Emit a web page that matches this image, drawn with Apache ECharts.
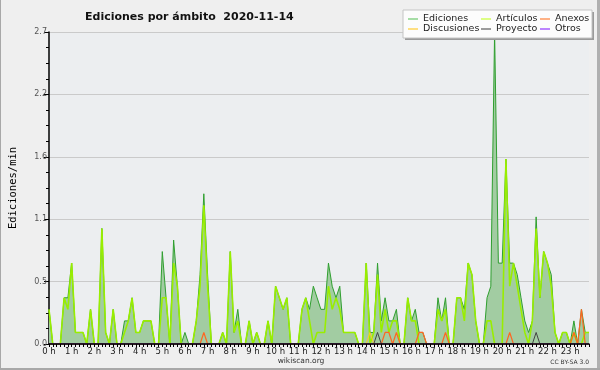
<!DOCTYPE html>
<html><head><meta charset="utf-8">
<script src="https://cdn.jsdelivr.net/npm/echarts/dist/echarts.min.js"></script>
<style>html,body{margin:0;padding:0;background:#efefef}#c{width:600px;height:370px}</style>
</head><body><div id="c"></div><script>
// tick labels (one per hour); data are 10-minute bins, 144 per day
const hourLabels = ['0 h','1 h','2 h','3 h','4 h','5 h','6 h','7 h','8 h','9 h','10 h','11 h',
  '12 h','13 h','14 h','15 h','16 h','17 h','18 h','19 h','20 h','21 h','22 h','23 h'];
const binsPerHour = 6;

// Ediciones (total) per 10-minute bin, edits/min
const ediciones = [
  0.3,0,0,0,0.4,0.4, 0.7,0.1,0.1,0.1,0,0.3,
  0,0,1.0,0.1,0,0.3, 0,0,0.2,0.2,0.4,0.1,
  0.1,0.2,0.2,0.2,0,0, 0.8,0.4,0,0.9,0.5,0,
  0.1,0,0,0.2,0.6,1.3, 0.6,0,0,0,0.1,0,
  0.8,0.1,0.3,0,0,0.2, 0,0.1,0,0,0.2,0,
  0.5,0.4,0.3,0.4,0,0, 0,0.3,0.4,0.3,0.5,0.4,
  0.3,0.3,0.7,0.5,0.4,0.5, 0.1,0.1,0.1,0.1,0,0,
  0.7,0.1,0.1,0.7,0.2,0.4, 0.2,0.2,0.3,0,0,0.4,
  0.2,0.3,0.1,0.1,0,0, 0,0.4,0.2,0.4,0,0,
  0.4,0.4,0.3,0.7,0.6,0.2, 0,0,0.4,0.5,2.7,0.7,
  0.7,1.6,0.7,0.7,0.6,0.4, 0.2,0.1,0.2,1.1,0.4,0.8,
  0.7,0.6,0.1,0,0.1,0.1, 0,0.2,0,0.3,0.1,0.1
];
// Artículos per bin
const articulos = [
  0.3,0,0,0,0.4,0.3, 0.7,0.1,0.1,0.1,0,0.3,
  0,0,1.0,0.1,0,0.3, 0,0,0.1,0.2,0.4,0.1,
  0.1,0.2,0.2,0.2,0,0, 0.4,0.4,0,0.7,0.5,0,
  0,0,0,0.2,0.5,1.2, 0.5,0,0,0,0.1,0,
  0.8,0.1,0.2,0,0,0.2, 0,0.1,0,0,0.2,0,
  0.5,0.4,0.3,0.4,0,0, 0,0.3,0.4,0.2,0,0.1,
  0.1,0.1,0.5,0.3,0.4,0.3, 0.1,0.1,0.1,0.1,0,0,
  0.7,0,0.1,0.6,0.1,0.3, 0.1,0.2,0.2,0,0,0.4,
  0.2,0.2,0,0,0,0, 0,0.3,0.2,0.3,0,0,
  0.4,0.4,0.2,0.7,0.6,0.2, 0,0,0.2,0.2,0,0,
  0,1.6,0.5,0.7,0.5,0.3, 0.1,0,0.2,1.0,0.4,0.8,
  0.7,0.5,0.1,0,0.1,0.1, 0,0.1,0,0,0.1,0.1
];
// sparse series: [bin, value]
const anexos = [[41,0.1],[89,0.1],[90,0.1],[92,0.1],[98,0.1],[99,0.1],[105,0.1],[122,0.1],[139,0.1],[141,0.3]];
const discusiones = [[85,0.1]];
const proyecto = [[87,0.1],[129,0.1]];
const otros = [];

const nBins = ediciones.length;
const categories = ediciones.map((_, i) => i % binsPerHour === 0 ? hourLabels[i / binsPerHour] : '');
function dense(pairs) {
  const out = new Array(nBins).fill(0);
  pairs.forEach(p => { out[p[0]] = p[1]; });
  return out;
}

const FONT = 'DejaVu Sans';
const chart = echarts.init(document.getElementById('c'), null, {renderer: 'canvas'});
const legendText = {fontFamily: FONT, fontSize: 9.5, color: '#222', lineHeight: 9};
function leg(left, names, colors) {
  return {
    orient: 'vertical', left: left, top: 14, itemGap: 0, icon: 'rect', z: 120, zlevel: 0,
    itemWidth: 10, itemHeight: 1.3, selectedMode: false, padding: 0,
    textStyle: legendText,
    data: names.map((n, k) => ({name: n, itemStyle: {color: colors[k]}}))
  };
}
const line = (name, data, color, width, z) => ({
  name, type: 'line', data, symbol: 'none', showSymbol: false, z,
  lineStyle: {color, width}, itemStyle: {color}, animation: false
});

chart.setOption({
  animation: false,
  backgroundColor: '#efefef',
  title: {
    text: 'Ediciones por ámbito  2020-11-14', left: 80, top: 7,
    textStyle: {fontFamily: FONT, fontWeight: 'bold', fontSize: 11, color: '#111'}
  },
  grid: {left: 47, right: 11, top: 32, bottom: 26, show: true,
         backgroundColor: '#eceef0', borderWidth: 0},
  legend: [
    leg(408, ['Ediciones', 'Discusiones'], ['#77cc77', '#ffd040']),
    leg(481, ['Artículos', 'Proyecto'], ['#ccff44', '#666666']),
    leg(540, ['Anexos', 'Otros'], ['#ff8844', '#9944ff'])
  ],
  xAxis: {
    type: 'category', data: categories, boundaryGap: false, z: 6,
    axisLine: {lineStyle: {color: '#000', width: 1.5}},
    axisTick: {show: true, interval: 0, length: 3, lineStyle: {color: '#000'}},
    axisLabel: {interval: 0, fontFamily: FONT, fontSize: 8.5, color: '#222', margin: 3},
    splitLine: {show: false}
  },
  yAxis: {
    type: 'value', min: 0, max: 2.7, interval: 0.54,
    name: 'Ediciones/min', nameLocation: 'middle', nameGap: 30, nameRotate: 90,
    nameTextStyle: {fontFamily: 'DejaVu Sans Mono', fontSize: 10.5, color: '#000'},
    axisLine: {show: true, lineStyle: {color: '#000', width: 1.5}},
    axisTick: {show: true, length: 5, lineStyle: {color: '#000'}},
    minorTick: {show: true, splitNumber: 4, length: 3, lineStyle: {color: '#000'}},
    axisLabel: {formatter: v => (Math.round(v * 10 + 1e-6) / 10).toFixed(1),
                fontFamily: FONT, fontSize: 8, color: '#555', margin: 2},
    splitLine: {lineStyle: {color: '#cacaca', width: 1}}
  },
  series: [
    Object.assign(line('Ediciones', ediciones, '#2f9f2f', 1, 2),
      {areaStyle: {color: '#a2cca2', opacity: 1}}),
    line('Artículos', articulos, '#99ee00', 1.6, 3),
    line('Discusiones', dense(discusiones), '#ffcc22', 1, 4),
    line('Anexos', dense(anexos), '#ff6622', 1.2, 4),
    line('Proyecto', dense(proyecto), '#444444', 1, 4),
    line('Otros', dense(otros), '#9933ff', 1, 4)
  ],
  graphic: [
    {type: 'rect', z: 10, shape: {x: 405, y: 12, width: 189, height: 28}, style: {fill: '#9a9a9a'}},
    {type: 'rect', z: 11, shape: {x: 403, y: 10, width: 189, height: 28},
     style: {fill: '#fcfcfc', stroke: '#c4c4c4', lineWidth: 1}},
    {type: 'text', z: 50, style: {text: 'wikiscan.org', x: 301, y: 361, align: 'center', verticalAlign: 'middle',
     font: '7.5px "DejaVu Sans"', fill: '#333'}},
    {type: 'text', z: 50, style: {text: 'CC BY-SA 3.0', x: 589, y: 362, align: 'right', verticalAlign: 'middle',
     font: '6px "DejaVu Sans"', fill: '#333'}},
    {type: 'rect', z: 50, shape: {x: 0, y: 0, width: 1, height: 370}, style: {fill: '#a8a8a8'}},
    {type: 'rect', z: 50, shape: {x: 597, y: 0, width: 3, height: 370}, style: {fill: '#b0b0b0'}},
    {type: 'rect', z: 50, shape: {x: 0, y: 368, width: 600, height: 2}, style: {fill: '#a8a8a8'}}
  ]
});
</script></body></html>
